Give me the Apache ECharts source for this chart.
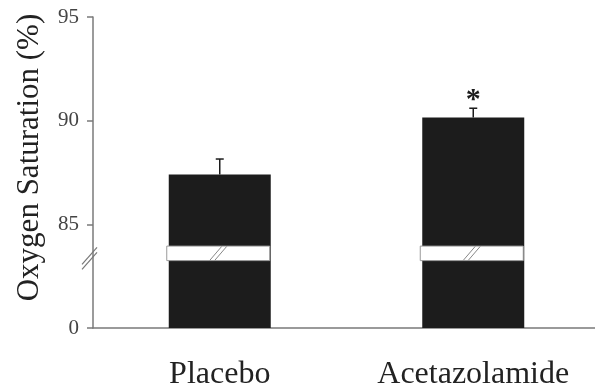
<!DOCTYPE html>
<html>
<head>
<meta charset="utf-8">
<script src="https://cdn.jsdelivr.net/npm/echarts@6/dist/echarts.min.js"></script>
<style>
html,body{margin:0;padding:0;background:#fff;}
#chart{width:595px;height:389px;}
</style>
</head>
<body>
<div id="chart"></div>
<script>
// ---- data ----
const categories = ['Placebo', 'Acetazolamide'];
const meanValues = [87.4, 90.15];
const errorTops = [88.15, 90.6];
const significance = ['', '*'];
const yTicks = [80, 85, 90, 95];          // 80 is drawn at the broken baseline and labelled "0"
const yTickLabels = ['0', '85', '90', '95'];
const breakRange = [83.25, 83.95];        // axis break shown on bars and axis

const chart = echarts.init(document.getElementById('chart'), null, {renderer: 'canvas'});
const serif = '"Liberation Serif", "Times New Roman", serif';
const axisGray = '#7a7a7a';

const option = {
  animation: false,
  grid: {left: 93, right: -5, top: 17, bottom: 61, containLabel: false, outerBoundsMode: 'none'},
  xAxis: {
    type: 'category',
    data: categories,
    boundaryGap: true,
    axisLine: {lineStyle: {color: axisGray, width: 1.5}},
    axisTick: {length: 11, lineStyle: {color: axisGray, width: 1.5}},
    axisLabel: {fontFamily: serif, fontSize: 32, color: '#222', margin: 31}
  },
  yAxis: {
    type: 'value',
    min: 80, max: 95, interval: 5,
    name: 'Oxygen Saturation (%)',
    nameLocation: 'middle',
    nameRotate: 90,
    nameGap: 48,
    nameTextStyle: {fontFamily: serif, fontSize: 31, color: '#222', padding: [0, 0, 0, 30]},
    axisLine: {show: true, lineStyle: {color: axisGray, width: 1.5}},
    axisTick: {show: true, length: 6, lineStyle: {color: axisGray, width: 1.5}},
    splitLine: {show: false},
    axisLabel: {
      fontFamily: serif, fontSize: 21, color: '#444', margin: 14,
      formatter: function (v) { const i = yTicks.indexOf(v); return i >= 0 ? yTickLabels[i] : ''; }
    }
  },
  series: [
    {
      type: 'bar',
      data: meanValues,
      barWidth: 102,
      itemStyle: {color: '#1c1c1c'},
      z: 2
    },
    {
      // error bars + significance marks
      type: 'custom',
      z: 3,
      data: categories.map((c, i) => [i, meanValues[i], errorTops[i]]),
      renderItem: function (params, api) {
        const i = api.value(0);
        const base = api.coord([i, api.value(1)]);
        const top = api.coord([i, api.value(2)]);
        const children = [
          {type: 'line', shape: {x1: top[0], y1: base[1], x2: top[0], y2: top[1]}, style: {stroke: '#1c1c1c', lineWidth: 1.5}},
          {type: 'line', shape: {x1: top[0] - 4, y1: top[1], x2: top[0] + 4, y2: top[1]}, style: {stroke: '#1c1c1c', lineWidth: 1.5}}
        ];
        if (significance[i]) {
          children.push({type: 'text', x: top[0], y: top[1] + 7,
            style: {text: significance[i], font: 'bold 30px ' + serif, fill: '#1c1c1c', align: 'center', verticalAlign: 'bottom'}});
        }
        return {type: 'group', children: children};
      }
    },
    {
      // break bands over bars
      type: 'custom',
      z: 4,
      data: categories.map((c, i) => [i, breakRange[0], breakRange[1]]),
      renderItem: function (params, api) {
        const i = api.value(0);
        const lo = api.coord([i, api.value(1)]);
        const hi = api.coord([i, api.value(2)]);
        const w = 102;
        const cx = lo[0] - 1;
        const h = lo[1] - hi[1];
        const my = (lo[1] + hi[1]) / 2;
        return {type: 'group', children: [
          {type: 'rect', shape: {x: cx - w / 2 - 1, y: hi[1], width: w + 1, height: h},
            style: {fill: '#fff', stroke: '#9a9a9a', lineWidth: 1}},
          {type: 'line', shape: {x1: cx - 9, y1: my + 7, x2: cx + 3, y2: my - 7}, style: {stroke: '#888', lineWidth: 1}},
          {type: 'line', shape: {x1: cx - 4, y1: my + 7, x2: cx + 8, y2: my - 7}, style: {stroke: '#888', lineWidth: 1}}
        ]};
      }
    },
    {
      // break marks on the y axis
      type: 'custom',
      z: 5,
      data: [[0, (breakRange[0] + breakRange[1]) / 2]],
      renderItem: function (params, api) {
        const p = api.coord([0, api.value(1)]);
        const x = params.coordSys.x;
        const y = p[1] + 1;
        return {type: 'group', children: [
          {type: 'line', shape: {x1: x - 11, y1: y + 10, x2: x + 4, y2: y - 7}, style: {stroke: '#777', lineWidth: 1.2}},
          {type: 'line', shape: {x1: x - 11, y1: y + 15, x2: x + 4, y2: y - 2}, style: {stroke: '#777', lineWidth: 1.2}}
        ]};
      }
    }
  ]
};
chart.setOption(option);
</script>
</body>
</html>
